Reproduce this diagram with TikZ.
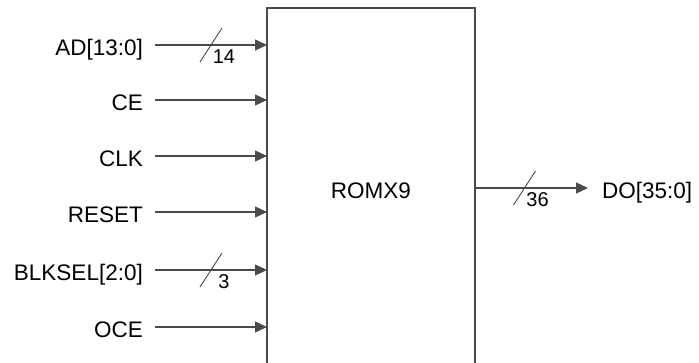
\documentclass[tikz,border=0pt]{standalone}
\usepackage{fontspec}
\setmainfont{Liberation Sans}
\usetikzlibrary{arrows.meta}
\definecolor{ln}{HTML}{4A4A4A}
\begin{document}
\begin{tikzpicture}[x=1pt,y=-1pt,
  sig/.style={font=\fontsize{22.5}{26}\selectfont, text height=16pt, text depth=0pt, inner ysep=0pt},
  inlbl/.style={sig, anchor=east, inner xsep=12pt},
  outlbl/.style={sig, anchor=west, inner xsep=14pt},
  num/.style={font=\fontsize{20}{24}\selectfont, inner sep=0pt, anchor=base},
  wire/.style={draw=ln, line width=1.1pt, -{Triangle[length=12pt,width=11pt]}},
  slash/.style={draw=ln, line width=0.9pt},
  blk/.style={draw=ln, line width=1.2pt, fill=white, minimum width=208pt, minimum height=367pt, inner sep=0pt}]
\useasboundingbox (0,0) rectangle (699,362);
\clip (0,0) rectangle (699,362);
\node[blk] (rom) at (371,191.5) {};
\node[sig] (romlbl) at (371,190) {ROMX9};
% inputs
\node[inlbl] (ad) at (155,47) {AD[13:0]};
\node[inlbl] (ce) at (155,102) {CE};
\node[inlbl] (clk) at (155,158) {CLK};
\node[inlbl] (rst) at (155,214) {RESET};
\node[inlbl] (blk) at (155,272) {BLKSEL[2:0]};
\node[inlbl] (oce) at (155,329) {OCE};
\foreach \n/\y in {ad/45, ce/100, clk/156, rst/212, blk/270, oce/327}{
  \coordinate (\n-in) at (267,\y);
  \draw[wire] (\n.east |- \n-in) -- (\n-in);
}
% bus slashes
\coordinate (s1) at (211,45);
\draw[slash] ([shift={(-11,17)}]s1) -- ([shift={(11,-17)}]s1);
\node[num] (n1) at ([shift={(13,18)}]s1) {14};
\coordinate (s2) at (211,270);
\draw[slash] ([shift={(-11,17)}]s2) -- ([shift={(11,-17)}]s2);
\node[num] (n2) at ([shift={(13,18)}]s2) {3};
% output
\node[outlbl] (do) at (588,190) {DO[35:0]};
\coordinate (dout) at (475,188);
\draw[wire] (dout) -- (do.west |- dout);
\coordinate (s3) at (524.5,188);
\draw[slash] ([shift={(-11,17)}]s3) -- ([shift={(11,-17)}]s3);
\node[num] (n3) at ([shift={(13,18)}]s3) {36};
\end{tikzpicture}
\end{document}
